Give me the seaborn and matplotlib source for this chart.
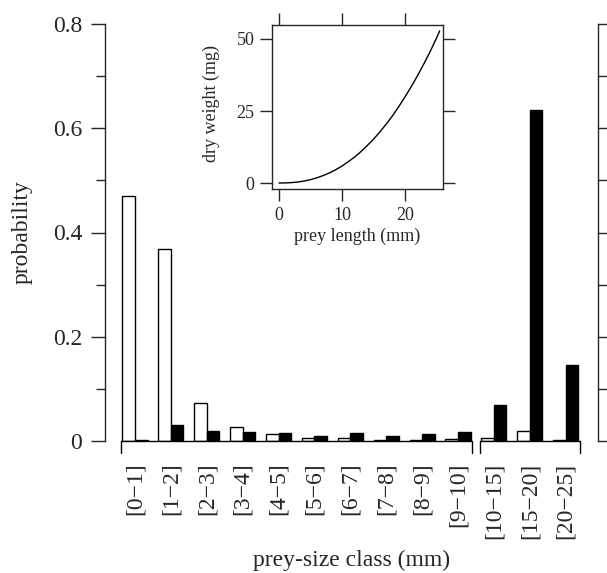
import numpy as np
import pandas as pd
import matplotlib
matplotlib.use("Agg")
import matplotlib.pyplot as plt
import seaborn as sns

# ==============================================================================
# 1. DONNEES
# ==============================================================================
size_classes = ["[0\u22121]", "[1\u22122]", "[2\u22123]", "[3\u22124]", "[4\u22125]",
                "[5\u22126]", "[6\u22127]", "[7\u22128]", "[8\u22129]", "[9\u221210]",
                "[10\u221215]", "[15\u221220]", "[20\u221225]"]
n_fine = 10  # classes de 1 mm, puis classes de 5 mm

prob_open = [0.470, 0.368, 0.073, 0.027, 0.013, 0.005, 0.006, 0.002, 0.002, 0.003,
             0.005, 0.020, 0.002]
prob_filled = [0.002, 0.031, 0.019, 0.017, 0.016, 0.010, 0.016, 0.010, 0.013, 0.018,
               0.070, 0.635, 0.146]

# relation longueur / poids sec (encart)
prey_length = [0, 1, 2, 3, 4, 5, 6, 7, 8, 9, 10, 11, 12, 13, 14, 15, 16, 17, 18,
               19, 20, 21, 22, 23, 24, 25, 25.5]
dry_weight = [0.0, 0.03, 0.14, 0.35, 0.69, 1.17, 1.79, 2.57, 3.5, 4.6, 5.9, 7.4,
              9.0, 10.9, 13.0, 15.2, 17.7, 20.4, 23.3, 26.5, 29.9, 33.5, 37.3,
              41.4, 45.7, 50.3, 52.8]

df = pd.DataFrame({
    "size_class": size_classes * 2,
    "group": ["open"] * len(size_classes) + ["filled"] * len(size_classes),
    "probability": prob_open + prob_filled,
})

# ==============================================================================
# 2. STYLE
# ==============================================================================
sns.set_style("ticks")
plt.rcParams["font.family"] = ["Liberation Serif", "DejaVu Serif"]
plt.rcParams["axes.linewidth"] = 1.0

fig = plt.figure(figsize=(6.07, 5.73), dpi=100)
ax = fig.add_axes([105 / 607, 1 - 441 / 573, (598 - 105) / 607, (441 - 24) / 573])

# ==============================================================================
# 3. HISTOGRAMME PRINCIPAL
# ==============================================================================
sns.barplot(data=df, x="size_class", y="probability", hue="group",
            order=size_classes, hue_order=["open", "filled"],
            palette={"open": "white", "filled": "black"}, saturation=1,
            width=0.7, edgecolor="black", linewidth=1, errorbar=None,
            legend=False, ax=ax)

ax.set_xlim(-0.836, 12.9)
ax.set_ylim(0, 0.8)
ax.spines["top"].set_visible(False)
ax.spines["bottom"].set_visible(False)
ax.spines["right"].set_visible(True)

ax.set_yticks([0, 0.2, 0.4, 0.6, 0.8])
ax.set_yticklabels(["0", "0.2", "0.4", "0.6", "0.8"])
ax.set_yticks([0.1, 0.3, 0.5, 0.7], minor=True)
ax.tick_params(axis="y", which="both", left=True, right=True, labelright=False,
               direction="out", width=1, labelsize=17, pad=6.5)
ax.tick_params(axis="y", which="major", length=10)
ax.tick_params(axis="y", which="minor", length=6.5)
ax.tick_params(axis="x", length=0, pad=15.5, labelsize=17, labelrotation=90)

# axes x en crochet (deux segments)
for lo, hi in [(0, n_fine - 1), (n_fine, len(size_classes) - 1)]:
    ax.plot([lo - 0.4, lo - 0.4, hi + 0.4, hi + 0.4], [-0.023, 0, 0, -0.023],
            color="black", lw=1, clip_on=False)

ax.set_xlabel("prey-size class (mm)", fontsize=17)
ax.set_ylabel("probability", fontsize=17)
ax.xaxis.set_label_coords(0.5, -0.262)
ax.yaxis.set_label_coords(-0.146, 0.5)

# ==============================================================================
# 4. ENCART : POIDS SEC
# ==============================================================================
ax_in = fig.add_axes([272 / 607, 1 - 189 / 573, 171 / 607, 164 / 573])
sns.lineplot(x=prey_length, y=dry_weight, color="black", lw=1, ax=ax_in)
ax_in.set_xlim(-1.11, 26.03)
ax_in.set_ylim(-2.08, 54.86)
ax_in.set_xticks([0, 10, 20])
ax_in.set_yticks([0, 25, 50])
ax_in.tick_params(top=True, right=True, direction="out", length=8.6, width=1,
                  labelsize=13, pad=4)
for sp in ax_in.spines.values():
    sp.set_visible(True)
    sp.set_linewidth(1)
ax_in.set_xlabel("prey length (mm)", fontsize=13)
ax_in.set_ylabel("dry weight (mg)", fontsize=13)
ax_in.xaxis.set_label_coords(0.5, -0.235)
ax_in.yaxis.set_label_coords(-0.304, 0.52)

fig.savefig("out.png", dpi=100)
